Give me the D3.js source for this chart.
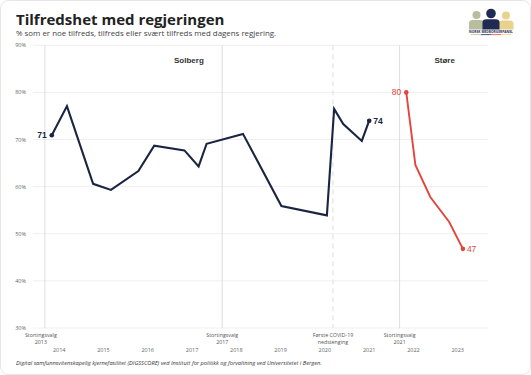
<!DOCTYPE html>
<html>
<head>
<meta charset="utf-8">
<script src="https://cdn.jsdelivr.net/npm/d3@7"></script>
<style>
  body { margin: 0; background: #fff; }
  svg { display: block; }
</style>
</head>
<body>
<div id="chart"></div>
<script>
// Solberg government (navy line)
const solbergDates = ["2013-11-05", "2014-03-10", "2014-10-12", "2015-03-08", "2015-10-20", "2016-02-28",
    "2016-11-03", "2017-02-28", "2017-05-05", "2018-03-01", "2019-01-12", "2020-01-22",
    "2020-03-22", "2020-06-05", "2020-11-05", "2021-01-05"];
const solbergValues = [70.9, 77.1, 60.6, 59.3, 63.3, 68.7, 67.7, 64.3, 69.1, 71.2, 55.9, 53.9, 76.5, 73.3, 69.7, 74.0];

// Støre government (red line)
const storeDates = ["2021-11-07", "2022-01-21", "2022-05-24", "2022-10-27", "2023-02-17"];
const storeValues = [80.0, 64.6, 57.8, 52.5, 46.8];

// events drawn as vertical reference lines
const eventDates = ["2013-09-09", "2017-09-11", "2020-03-12", "2021-09-13"];
const eventLabels = [["Stortingsvalg", "2013"], ["Stortingsvalg", "2017"], ["Første COVID-19", "nedstenging"], ["Stortingsvalg", "2021"]];
const eventDashed = [false, false, true, false];

const periodLabels = ["Solberg", "Støre"];
const periodDates = ["2016-12-10", "2022-09-20"];

const yTicks = [30, 40, 50, 60, 70, 80, 90];
const xTicks = [2014, 2015, 2016, 2017, 2018, 2019, 2020, 2021, 2022, 2023];

const width = 531;
const height = 375;
const parse = d3.timeParse("%Y-%m-%d");
const navy = "#1b2542";
const red = "#e2463c";

const svg = d3.select("#chart")
    .append("svg")
    .attr("width", width)
    .attr("height", height);

svg.append("rect")
    .attr("x", 0.5).attr("y", 0.5)
    .attr("width", width - 1).attr("height", height - 1)
    .attr("rx", 8)
    .attr("fill", "#fff")
    .attr("stroke", "#e6e6e6");

// x: time, y: percent
const x = d3.scaleTime()
    .domain([parse("2013-06-03"), parse("2023-09-12")])
    .range([33, 488]);

const y = d3.scaleLinear()
    .domain([30, 90])
    .range([328, 45.3]);

// gridlines
svg.append("g")
    .selectAll("line")
    .data(yTicks)
    .enter()
    .append("line")
    .attr("x1", 33).attr("x2", 488)
    .attr("y1", d => y(d)).attr("y2", d => y(d))
    .attr("stroke", "#efefef")
    .attr("stroke-width", 1);

svg.append("g")
    .selectAll("text")
    .data(yTicks)
    .enter()
    .append("text")
    .attr("x", 26)
    .attr("y", d => y(d) + 2)
    .attr("text-anchor", "end")
    .style("font-family", "'Open Sans', sans-serif")
    .style("font-size", "5.5px")
    .style("fill", "#666")
    .text(d => d + "%");

// x axis labels (no line)
const xAxis = svg.append("g")
    .attr("transform", "translate(0, 350)")
    .call(d3.axisBottom(x)
        .tickValues(xTicks.map(d => new Date(d, 0, 1)))
        .tickFormat(d3.timeFormat("%Y"))
        .tickSize(0)
        .tickPadding(0));
xAxis.select(".domain").remove();
xAxis.selectAll("text")
    .attr("dy", "0.3em")
    .style("font-family", "'Open Sans', sans-serif")
    .style("font-size", "5.5px")
    .style("fill", "#666");

// event lines
const events = eventDates.map((d, i) => ({ date: parse(d), label: eventLabels[i], dashed: eventDashed[i] }));

svg.append("g")
    .selectAll("line")
    .data(events)
    .enter()
    .append("line")
    .attr("x1", d => x(d.date)).attr("x2", d => x(d.date))
    .attr("y1", y(90)).attr("y2", y(30))
    .attr("stroke", "#dedede")
    .attr("stroke-width", 1)
    .attr("stroke-dasharray", d => d.dashed ? "5,4" : null);

const evLabel = svg.append("g")
    .selectAll("text")
    .data(events)
    .enter()
    .append("text")
    .attr("x", (d, i) => x(d.date) - (i === 0 ? 4 : 0))
    .attr("y", 337)
    .attr("text-anchor", "middle")
    .style("font-family", "'Open Sans', sans-serif")
    .style("font-size", "5.3px")
    .style("fill", "#555");
evLabel.selectAll("tspan")
    .data(d => d.label)
    .enter()
    .append("tspan")
    .attr("x", function () { return d3.select(this.parentNode).attr("x"); })
    .attr("dy", (d, i) => i === 0 ? 0 : 6.5)
    .text(d => d);

// period labels
svg.append("g")
    .selectAll("text")
    .data(periodLabels)
    .enter()
    .append("text")
    .attr("x", (d, i) => x(parse(periodDates[i])))
    .attr("y", 63)
    .attr("text-anchor", "middle")
    .style("font-family", "'Liberation Sans', Arial, sans-serif")
    .style("font-weight", "bold")
    .style("font-size", "8px")
    .style("fill", "#333")
    .text(d => d);

// lines
const line = d3.line()
    .x(d => x(d.date))
    .y(d => y(d.value));

const solberg = solbergDates.map((d, i) => ({ date: parse(d), value: solbergValues[i] }));
const store = storeDates.map((d, i) => ({ date: parse(d), value: storeValues[i] }));

const series = [
    { data: solberg, color: navy, width: 2.1, bold: true },
    { data: store, color: red, width: 1.9, bold: false }
];

series.forEach(s => {
    svg.append("path")
        .datum(s.data)
        .attr("fill", "none")
        .attr("stroke", s.color)
        .attr("stroke-width", s.width)
        .attr("stroke-linejoin", "miter")
        .attr("d", line);

    const ends = [s.data[0], s.data[s.data.length - 1]];
    svg.append("g")
        .selectAll("circle")
        .data(ends)
        .enter()
        .append("circle")
        .attr("cx", d => x(d.date))
        .attr("cy", d => y(d.value))
        .attr("r", 2.3)
        .attr("fill", s.color);

    svg.append("g")
        .selectAll("text")
        .data(ends)
        .enter()
        .append("text")
        .attr("x", (d, i) => x(d.date) + (i === 0 ? -5 : 4))
        .attr("y", d => y(d.value) + 3)
        .attr("text-anchor", (d, i) => i === 0 ? "end" : "start")
        .style("font-family", "'Liberation Sans', Arial, sans-serif")
        .style("font-weight", s.bold ? "bold" : "normal")
        .style("font-size", "8.5px")
        .style("fill", s.color)
        .text(d => Math.round(d.value));
});

// titles
svg.append("text")
    .attr("x", 16)
    .attr("y", 25)
    .style("font-family", "'Open Sans', sans-serif")
    .style("font-weight", "bold")
    .style("font-size", "15px")
    .style("fill", "#222")
    .text("Tilfredshet med regjeringen");

svg.append("text")
    .attr("x", 16)
    .attr("y", 36)
    .style("font-family", "'Open Sans', sans-serif")
    .style("font-size", "7.9px")
    .style("fill", "#444")
    .text("% som er noe tilfreds, tilfreds eller svært tilfreds med dagens regjering.");

svg.append("text")
    .attr("x", 16)
    .attr("y", 365)
    .style("font-family", "'Open Sans', sans-serif")
    .style("font-style", "italic")
    .style("font-size", "5.7px")
    .style("fill", "#333")
    .text("Digital samfunnsvitenskapelig kjernefasilitet (DIGSSCORE) ved Institutt for politikk og forvaltning ved Universitetet i Bergen.");

// logo
const logo = svg.append("g");
const figures = [
    { cx: 476.5, hy: 15, r: 4, bw: 15, color: "#b8bd9d" },
    { cx: 506, hy: 15.5, r: 4, bw: 15, color: "#e9d18e" },
    { cx: 491, hy: 13.5, r: 4.8, bw: 17, color: "#1f2b52" }
];
figures.forEach(f => {
    logo.append("circle")
        .attr("cx", f.cx).attr("cy", f.hy).attr("r", f.r)
        .attr("fill", f.color);
    logo.append("path")
        .attr("d", `M${f.cx - f.bw / 2},29.5 L${f.cx - f.bw / 2},${f.hy + f.r + 4} Q${f.cx - f.bw / 2},${f.hy + f.r + 1} ${f.cx - f.bw / 2 + 4},${f.hy + f.r + 1} L${f.cx + f.bw / 2 - 4},${f.hy + f.r + 1} Q${f.cx + f.bw / 2},${f.hy + f.r + 1} ${f.cx + f.bw / 2},${f.hy + f.r + 4} L${f.cx + f.bw / 2},29.5 Z`)
        .attr("fill", f.color);
});
logo.append("text")
    .attr("x", 491)
    .attr("y", 33)
    .attr("text-anchor", "middle")
    .style("font-family", "'Open Sans', sans-serif")
    .style("font-weight", "bold")
    .style("font-size", "3.3px")
    .style("fill", "#1f2b52")
    .text("NORSK MEDBORGERPANEL");
const barColors = ["#b8bd9d", "#1f2b52", "#e2463c", "#e9d18e"];
logo.selectAll(".bar")
    .data(barColors)
    .enter()
    .append("rect")
    .attr("x", (d, i) => 471 + i * 10)
    .attr("y", 34.3)
    .attr("width", 10)
    .attr("height", 0.8)
    .attr("fill", d => d);
</script>
</body>
</html>
